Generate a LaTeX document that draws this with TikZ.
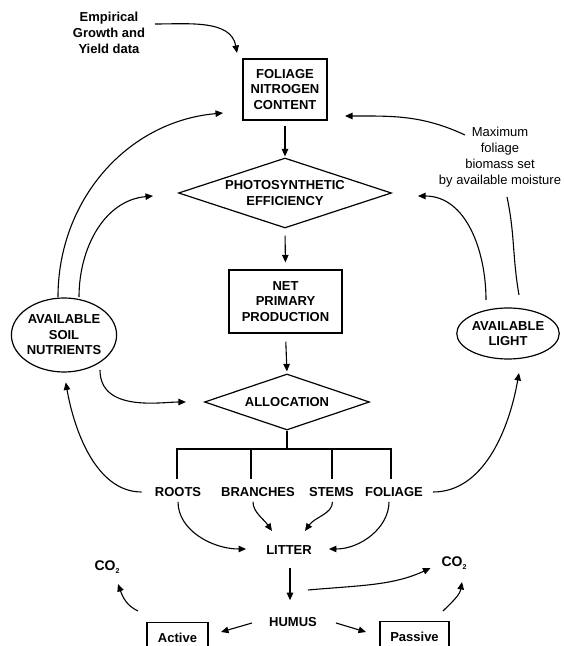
\documentclass[tikz,border=0pt]{standalone}
\usepackage{fontspec}
\setmainfont{Liberation Sans}
\usetikzlibrary{shapes.geometric,arrows.meta}
\begin{document}
\begin{tikzpicture}[x=1pt,y=1pt,
  txt/.style={font=\bfseries\fontsize{13}{15.5}\selectfont, align=center, inner sep=0pt},
  plain/.style={font=\fontsize{13}{16}\selectfont, align=center, inner sep=0pt},
  cotwo/.style={font=\bfseries\fontsize{14}{16}\selectfont, inner sep=0pt},
  box/.style={txt, draw, line width=1.3pt, rectangle},
  dia/.style={txt, draw, line width=1.2pt, diamond, aspect=3},
  ell/.style={txt, draw, line width=1.2pt, ellipse},
  arr/.style={line width=1.1pt, -{Triangle[length=7.5pt,width=6.5pt]}},
  ln/.style={line width=1.1pt}]
\useasboundingbox (0,0) rectangle (563,646);
\clip (0,0) rectangle (563,646);

% nodes
\node[txt, font=\bfseries\fontsize{13}{16}\selectfont] (emp) at (109,613) {Empirical\\Growth and\\Yield data};
\node[box, minimum width=84, minimum height=61] (fnc) at (285,556.5) {FOLIAGE\\NITROGEN\\CONTENT};
\node[dia, minimum width=213, minimum height=70] (pse) at (285,453) {PHOTOSYNTHETIC\\EFFICIENCY};
\node[box, minimum width=113, minimum height=63] (npp) at (285.5,344.5) {NET\\PRIMARY\\PRODUCTION};
\node[dia, minimum width=165, minimum height=56] (alloc) at (287,244) {ALLOCATION};
\node[ell, minimum width=101, minimum height=74] (soil) at (64,311) {AVAILABLE\\SOIL\\NUTRIENTS};
\node[ell, minimum width=98, minimum height=51] (light) at (508,312.5) {AVAILABLE\\LIGHT};
\node[plain] (maxt) at (500,489) {Maximum\\foliage\\biomass set\\by available moisture};

\node[txt] (roots) at (178,154) {ROOTS};
\node[txt] (branches) at (258,154) {BRANCHES};
\node[txt] (stems) at (331.5,154) {STEMS};
\node[txt] (foliage) at (394,154) {FOLIAGE};
\node[txt] (litter) at (289,96) {LITTER};
\node[txt] (humus) at (293,24) {HUMUS};
\node[cotwo] (co2l) at (107,79) {CO\raisebox{-2.5pt}{\fontsize{7}{7}\selectfont 2}};
\node[cotwo] (co2r) at (454,83) {CO\raisebox{-2.5pt}{\fontsize{7}{7}\selectfont 2}};
\node[box, minimum width=61, minimum height=30, anchor=north] (active) at (177.5,24) {Active};
\node[box, minimum width=69, minimum height=30, anchor=north] (passive) at (414.5,25) {Passive};

% helper coordinates for free ends
\coordinate (e1) at (155,622);
\coordinate (e2) at (237,593);
\coordinate (so) at (58,349);
\coordinate (si) at (79,349);
\coordinate (fa) at (223,533);
\coordinate (pa) at (153,450);
\coordinate (sa) at (100,276);
\coordinate (li) at (486,346);
\coordinate (lr) at (519,351);
\coordinate (pb) at (418,450);
\coordinate (mt) at (507,449);
\coordinate (ms) at (465,511);
\coordinate (fb) at (345,530);
\coordinate (lt) at (519,273);
\coordinate (lb) at (272,115);
\coordinate (ls) at (305,115);
\coordinate (hs) at (308,56);
\coordinate (as) at (138,35);
\coordinate (at) at (118,62);
\coordinate (ps) at (443,35);
\coordinate (pt) at (462,64);
\coordinate (ha) at (252,23);
\coordinate (ae) at (221,14);
\coordinate (hp) at (336,23);
\coordinate (pe) at (366,14);
\coordinate (tj) at (287,197);
\coordinate (t1) at (177,167);
\coordinate (t2) at (251,167);
\coordinate (t3) at (332,167);
\coordinate (t4) at (391,167);
\coordinate (lh) at (290,78);

% main chain
\draw[arr] (e1) to[out=0,in=100] (e2);
\draw[arr, shorten <=5pt, shorten >=1pt] (fnc.south) -- (pse.north);
\draw[arr, shorten <=7pt, shorten >=7pt] (pse.south) -- (npp.north);
\draw[arr, shorten <=8pt, shorten >=2pt] (npp.south) -- (alloc.north);

% allocation tree
\draw[ln] (alloc.south) -- (tj);
\draw[ln] (t1) |- (tj) -| (t4);
\draw[ln] (t2) -- (t2 |- tj);
\draw[ln] (t3) -- (t3 |- tj);

% soil nutrients
\draw[arr] (so) to[out=90,in=185] (fa);
\draw[arr] (si) to[out=90,in=185] (pa);
\draw[arr, shorten >=18pt] (sa) to[out=-90,in=180] (alloc.west);
\draw[arr, shorten <=13pt, shorten >=10pt] (roots.west) to[out=180,in=-80] (soil.south);

% light
\draw[arr] (li) to[out=90,in=0] (pb);
\draw[ln] (lr) to[out=100,in=-78] (mt);
\draw[arr] (ms) to[out=155,in=0] (fb);
\draw[arr, shorten <=10pt] (foliage.east) to[out=0,in=-100] (lt);

% litter
\draw[arr, shorten <=5pt] (roots.south) to[out=-90,in=180] ([xshift=-20pt,yshift=1pt]litter.west);
\draw[arr, shorten <=5pt] ([xshift=-5pt]branches.south) to[out=-90,in=125] (lb);
\draw[arr, shorten <=5pt] ([xshift=1pt]stems.south) to[out=-90,in=55] (ls);
\draw[arr, shorten <=5pt] ([xshift=-5pt]foliage.south) to[out=-90,in=0] ([xshift=17pt,yshift=1pt]litter.east);
\draw[arr, shorten >=17pt] (lh) -- (lh |- humus.north);

% humus
\draw[arr, shorten >=12pt] (hs) to[out=5,in=205] (co2r.west);
\draw[arr] (ha) -- (ae);
\draw[arr] (hp) -- (pe);
\draw[arr] (as) to[out=155,in=-70] (at);
\draw[arr] (ps) to[out=45,in=-100] (pt);
\end{tikzpicture}
\end{document}
